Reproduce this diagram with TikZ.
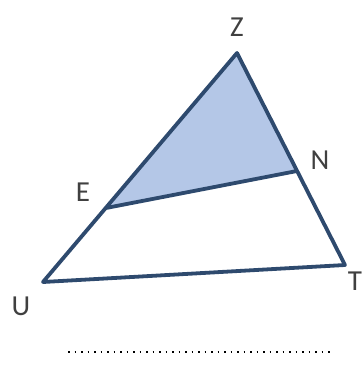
\documentclass[tikz,border=0pt]{standalone}
\usepackage{fontspec}
\setmainfont{Carlito}
\definecolor{edgeblue}{HTML}{2E4A6E}
\definecolor{zenfill}{HTML}{B4C7E7}
\definecolor{lbl}{HTML}{404040}
\tikzset{
	side/.style={draw=edgeblue, line width=3.8pt, line join=round},
	vlabel/.style={text=lbl, font=\fontsize{29}{29}\selectfont, inner sep=0pt}
}
\begin{document}
\begin{tikzpicture}[x=1pt, y=-1pt]
			\useasboundingbox (0,0) rectangle (363,370);
			\coordinate (Z) at (237,53);
			\coordinate (E) at (106,208);
			\coordinate (N) at (297,171);
			\coordinate (U) at (43,282);
			\coordinate (T) at (345,265);
			
			\fill[zenfill] (Z) -- (E) -- (N) -- cycle;
			\draw[side] (U) -- (Z) -- (T) -- cycle;
			\draw[side] (E) -- (N);
			
			\node[vlabel] (lZ) at (237,27) {Z};
			\node[vlabel] (lE) at (83,192) {E};
			\node[vlabel] (lN) at (320,160) {N};
			\node[vlabel] (lU) at (21,306) {U};
			\node[vlabel] (lT) at (355,281) {T};
			
			\coordinate (d1) at (68,352);
			\coordinate (d2) at (334,352);
			\draw[line width=1.6pt, dash pattern=on 1.6pt off 4.9pt] (d1) -- (d2);
		\end{tikzpicture}
\end{document}
